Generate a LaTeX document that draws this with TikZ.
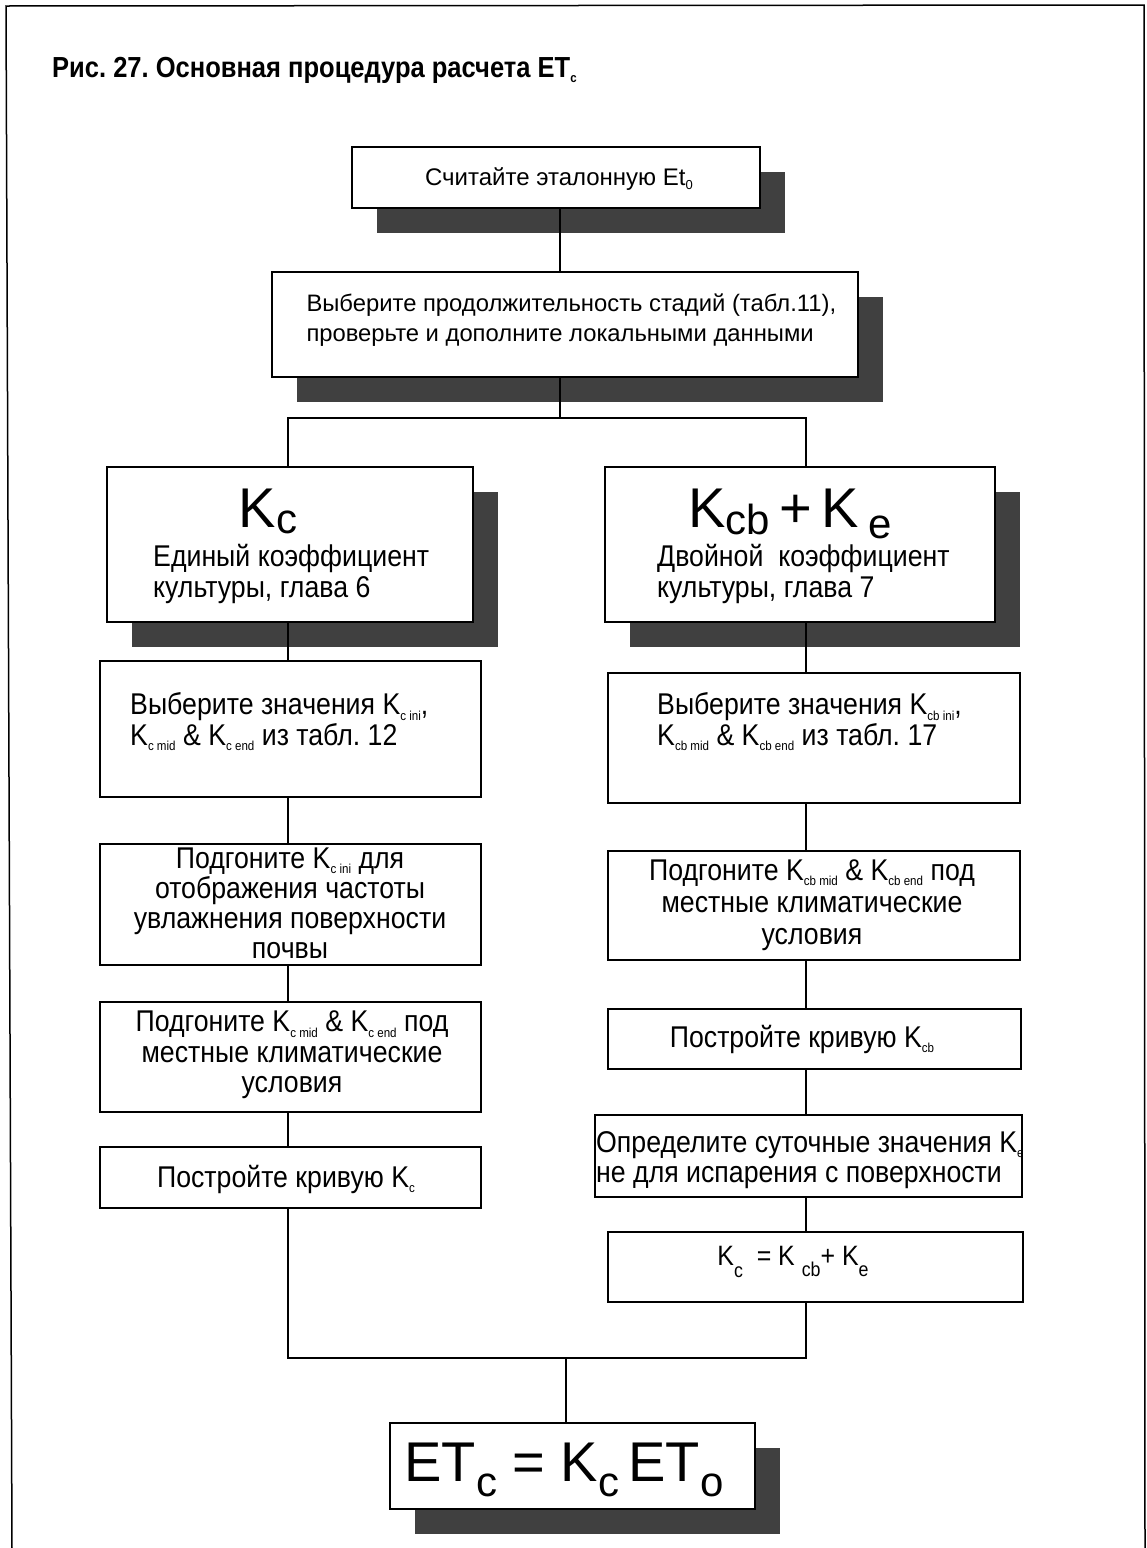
\documentclass[tikz,border=0pt]{standalone}
\usepackage{fontspec}
\setmainfont{Liberation Sans}
\newfontfamily\nar[FakeStretch=0.89]{Liberation Sans}
\newfontfamily\titlefont[FakeStretch=0.88]{Liberation Sans}
\usetikzlibrary{shadows}
\newcommand\sbs[1]{\raisebox{-0.35ex}{\fontsize{13}{13}\selectfont #1}}
\newcommand\bsub[2][0.28em]{\raisebox{-#1}{\fontsize{42}{42}\selectfont #2}}
\begin{document}
\frenchspacing
\begin{tikzpicture}[x=1pt,y=-1pt,
  box/.style={draw, line width=1.4pt, fill=white, rectangle, inner sep=0pt},
  shbox/.style={box, drop shadow={shadow xshift=25pt, shadow yshift=-25pt, fill=black!75, opacity=1}},
  txt/.style={inner sep=0pt, font=\nar\fontsize{30}{30.5}\selectfont},
  bigtxt/.style={inner sep=0pt, font=\fontsize{56}{56}\selectfont},
  conn/.style={line width=1.2pt}]
\useasboundingbox (0,0) rectangle (1147,1548);
\draw[line width=1.5pt] (12,1548) -- (6,6) -- (1144,5) -- (1145,1548);
\node[inner sep=0pt, anchor=base west, font=\titlefont\bfseries\fontsize{29}{29}\selectfont] (title) at (52,77)
  {Рис. 27. Основная процедура расчета ET\sbs{c}};

% boxes
\node[shbox, minimum width=408, minimum height=61] (b1) at (556,177.5) {};
\node[shbox, minimum width=586, minimum height=105] (b2) at (565,324.5) {};
\node[shbox, minimum width=366, minimum height=155] (kc) at (290,544.5) {};
\node[shbox, minimum width=390, minimum height=155] (kcb) at (800,544.5) {};
\node[box, minimum width=381, minimum height=136] (L1) at (290.5,729) {};
\node[box, minimum width=412, minimum height=130] (R1) at (814,738) {};
\node[box, minimum width=381, minimum height=121] (L2) at (290.5,904.5) {};
\node[box, minimum width=412, minimum height=109] (R2) at (814,905.5) {};
\node[box, minimum width=381, minimum height=110] (L3) at (290.5,1057) {};
\node[box, minimum width=413, minimum height=60] (R3) at (814.5,1039) {};
\node[box, minimum width=381, minimum height=61] (L4) at (290.5,1177.5) {};
\node[box, minimum width=427, minimum height=82] (R4) at (808.5,1156) {};
\node[box, minimum width=415, minimum height=70] (R5) at (815.5,1267) {};
\node[shbox, minimum width=365, minimum height=86] (fin) at (572.5,1466) {};

% texts
\node[txt, font=\fontsize{24}{30}\selectfont] (t1) at (559,179) {Считайте эталонную Et\sbs{0}};
\node[txt, align=left, anchor=west, font=\fontsize{23.8}{30}\selectfont] (t2) at ([xshift=35]b2.west |- 0,320) {Выберите продолжительность стадий (табл.11),\\проверьте и дополните локальными данными};
\node[bigtxt, anchor=base] (tkc) at (268,527) {K\bsub[0.12em]{c}};
\node[txt, align=left, anchor=west] (tkc2) at (153,574) {Единый коэффициент\\культуры, глава 6};
\node[bigtxt, anchor=base] (tkcb) at (790,527) {K\bsub[0.14em]{cb}\,+\,K\,\bsub[0.2em]{e}};
\node[txt, align=left, anchor=west] (tkcb2) at (657,574) {Двойной\ \ коэффициент\\культуры, глава 7};
\node[txt, align=left, anchor=west] (tL1) at (130,722) {Выберите значения K\sbs{c ini},\\K\sbs{c mid} \& K\sbs{c end} из табл. 12};
\node[txt, align=left, anchor=west] (tR1) at (657,722) {Выберите значения K\sbs{cb ini},\\K\sbs{cb mid} \& K\sbs{cb end} из табл. 17};
\node[txt, align=center, font=\nar\fontsize{30}{30}\selectfont] (tL2) at (290,903) {Подгоните K\sbs{c ini} для\\отображения частоты\\увлажнения поверхности\\почвы};
\node[txt, align=center, font=\nar\fontsize{30}{32}\selectfont] (tR2) at (812,905) {Подгоните K\sbs{cb mid} \& K\sbs{cb end} под\\местные климатические\\условия};
\node[txt, align=center] (tL3) at (292,1055) {Подгоните K\sbs{c mid} \& K\sbs{c end} под\\местные климатические\\условия};
\node[txt] (tR3) at (802,1039) {Постройте кривую K\sbs{cb}};
\node[txt] (tL4) at (286,1179) {Постройте кривую K\sbs{c}};
\node[txt, align=left, anchor=west] (tR4) at (596,1160) {Определите суточные значения K\sbs{e}\\не для испарения с поверхности};
\node[txt, font=\nar\fontsize{28}{28}\selectfont] (tR5) at (793,1262) {K\raisebox{-0.45em}{\fontsize{20}{20}\selectfont c}\ \ = K \raisebox{-0.4em}{\fontsize{20}{20}\selectfont cb}+ K\raisebox{-0.4em}{\fontsize{20}{20}\selectfont e}};
\node[bigtxt] (tfin) at (564,1470) {ET\bsub{c} = K\bsub{c}\,ET\bsub{o}};

% connectors
\coordinate (xs) at (560,0);
\coordinate (cl) at (288,0);
\coordinate (cr) at (806,0);
\coordinate (sp) at (560,418);
\coordinate (mg) at (566,1358);
\draw[conn] (b1.south -| xs) -- (b2.north -| xs);
\draw[conn] (b2.south -| xs) -- (sp);
\draw[conn] (kc.north -| cl) |- (sp) -| (kcb.north -| cr);
\draw[conn] (kc.south -| cl) -- (L1.north -| cl);
\draw[conn] (L1.south -| cl) -- (L2.north -| cl);
\draw[conn] (L2.south -| cl) -- (L3.north -| cl);
\draw[conn] (L3.south -| cl) -- (L4.north -| cl);
\draw[conn] (kcb.south -| cr) -- (R1.north -| cr);
\draw[conn] (R1.south -| cr) -- (R2.north -| cr);
\draw[conn] (R2.south -| cr) -- (R3.north -| cr);
\draw[conn] (R3.south -| cr) -- (R4.north -| cr);
\draw[conn] (R4.south -| cr) -- (R5.north -| cr);
\draw[conn] (L4.south -| cl) |- (mg) -| (R5.south -| cr);
\draw[conn] (mg) -- (fin.north -| mg);
\end{tikzpicture}
\end{document}
